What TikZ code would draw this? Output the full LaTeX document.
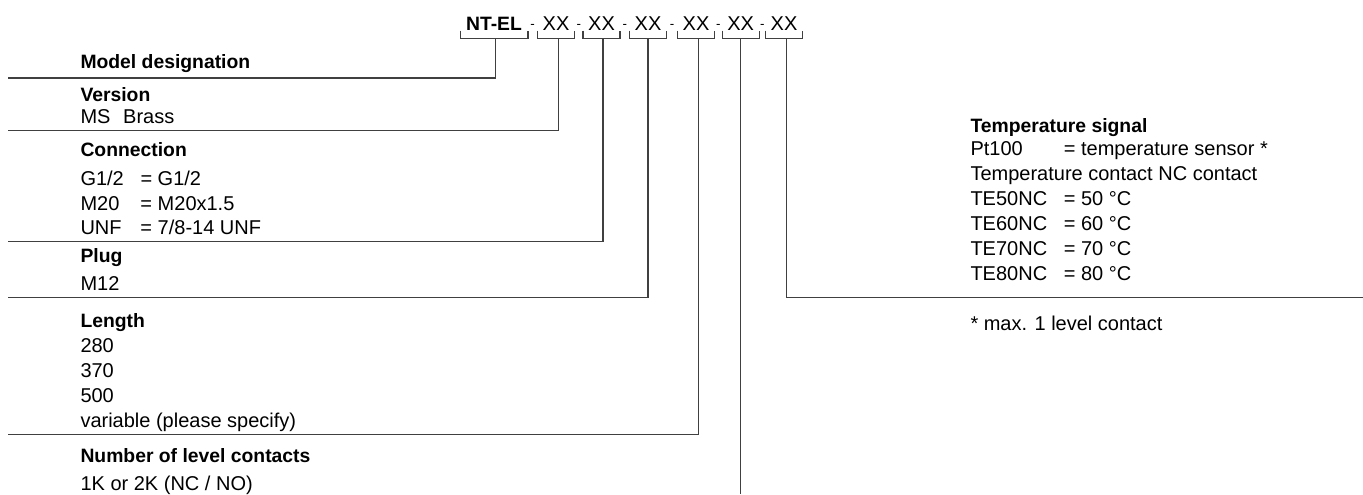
\documentclass[tikz,border=0pt]{standalone}
\usepackage{fontspec}
\setmainfont{Liberation Sans}
\usetikzlibrary{calc}

\tikzset{every picture/.style={line width=0.75pt}}
\tikzset{
  code/.style={font=\fontsize{15}{17}\selectfont, anchor=base, inner xsep=0pt, inner ysep=5.8pt, minimum width=27pt},
  codebf/.style={code, font=\fontsize{14.5}{17}\selectfont\bfseries, minimum width=50pt},
  dashtxt/.style={font=\fontsize{10}{12}\selectfont, anchor=base, inner sep=0pt},
  txt/.style={font=\fontsize{15}{18}\selectfont, anchor=base west, inner sep=0pt},
  head/.style={txt, font=\fontsize{14.5}{17}\selectfont\bfseries},
  lead/.style={draw=black!75, line width=1pt},
}

\begin{document}
\begin{tikzpicture}[x=0.75pt,y=0.75pt,yscale=-1,xscale=1]
		\path[use as bounding box] (0,0) rectangle (1363,494);
		% Code Nodes
		\node [codebf] (ntel) at (494,30) {NT-EL};
		\node [code] (xx1) at (556,30) {XX};
		\node [code] (xx2) at (601.5,30) {XX};
		\node [code] (xx3) at (648,30) {XX};
		\node [code] (xx4) at (696,30) {XX};
		\node [code] (xx5) at (740.7,30) {XX};
		\node [code] (xx6) at (784,30) {XX};
		% Dashes
		\node [dashtxt] (d1) at ($(ntel.base east)!0.5!(xx1.base west)+(0,-2)$) {-};
		\node [dashtxt] (d2) at ($(xx1.base east)!0.5!(xx2.base west)+(0,-2)$) {-};
		\node [dashtxt] (d3) at ($(xx2.base east)!0.5!(xx3.base west)+(0,-2)$) {-};
		\node [dashtxt] (d4) at ($(xx3.base east)!0.5!(xx4.base west)+(0,-2)$) {-};
		\node [dashtxt] (d5) at ($(xx4.base east)!0.5!(xx5.base west)+(0,-2)$) {-};
		\node [dashtxt] (d6) at ($(xx5.base east)!0.5!(xx6.base west)+(0,-2)$) {-};
		% Brackets
		\draw [lead] (ntel.south west) ++(0,-7.7) -- (ntel.south west) -- (ntel.south east) -- ++(0,-7.7);
		\draw [lead] (xx1.south west) ++(0,-7.7) -- (xx1.south west) -- (xx1.south east) -- ++(0,-7.7);
		\draw [lead] (xx2.south west) ++(0,-7.7) -- (xx2.south west) -- (xx2.south east) -- ++(0,-7.7);
		\draw [lead] (xx3.south west) ++(0,-7.7) -- (xx3.south west) -- (xx3.south east) -- ++(0,-7.7);
		\draw [lead] (xx4.south west) ++(0,-7.7) -- (xx4.south west) -- (xx4.south east) -- ++(0,-7.7);
		\draw [lead] (xx5.south west) ++(0,-7.7) -- (xx5.south west) -- (xx5.south east) -- ++(0,-7.7);
		\draw [lead] (xx6.south west) ++(0,-7.7) -- (xx6.south west) -- (xx6.south east) -- ++(0,-7.7);
		% Leader ends
		\coordinate (mdl-l) at (8,78);
		\coordinate (ver-l) at (8,130.7);
		\coordinate (con-l) at (8,241.7);
		\coordinate (plg-l) at (8,297.7);
		\coordinate (len-l) at (8,434.7);
		\coordinate (num-b) at (740.7,494);
		\coordinate (tmp-r) at (1363,297.7);
		% Leaders
		\draw [lead] ([xshift=1]ntel.south) |- (mdl-l);
		\draw [lead] ([xshift=2]xx1.south) |- (ver-l);
		\draw [lead] ([xshift=1]xx2.south) |- (con-l);
		\draw [lead] (xx3.south) |- (plg-l);
		\draw [lead] ([xshift=2]xx4.south) |- (len-l);
		\draw [lead] (xx5.south) -- (num-b);
		\draw [lead] ([xshift=2]xx6.south) |- (tmp-r);
		% Text Node
		\node [head] (mdl-h) at (80,68) {Model designation};
		% Text Node
		\node [head] (ver-h) at (80,101) {Version};
		\node [txt] (ver-1) at (80,123.5) {\makebox[32pt][l]{MS}Brass};
		% Text Node
		\node [head] (con-h) at (80,156) {Connection};
		\node [txt] (con-1) at (80,185) {\makebox[45pt][l]{G1/2}= G1/2};
		\node [txt] (con-2) at (80,210) {\makebox[45pt][l]{M20}= M20x1.5};
		\node [txt] (con-3) at (80,234.5) {\makebox[45pt][l]{UNF}= 7/8-14 UNF};
		% Text Node
		\node [head] (plg-h) at (80,262) {Plug};
		\node [txt] (plg-1) at (80,290) {M12};
		% Text Node
		\node [head] (len-h) at (80,327) {Length};
		\node [txt] (len-1) at (80,352) {280};
		\node [txt] (len-2) at (80,377) {370};
		\node [txt] (len-3) at (80,402) {500};
		\node [txt] (len-4) at (80,427) {variable (please specify)};
		% Text Node
		\node [head] (num-h) at (80,462) {Number of level contacts};
		\node [txt] (num-1) at (80,490) {1K or 2K (NC / NO)};
		% Text Node
		\node [head] (tmp-h) at (970,132) {Temperature signal};
		\node [txt] (tmp-1) at (970,155) {\makebox[70pt][l]{Pt100}= temperature sensor *};
		\node [txt] (tmp-2) at (970,180) {Temperature contact NC contact};
		\node [txt] (tmp-3) at (970,205) {\makebox[70pt][l]{TE50NC}= 50 °C};
		\node [txt] (tmp-4) at (970,230) {\makebox[70pt][l]{TE60NC}= 60 °C};
		\node [txt] (tmp-5) at (970,255) {\makebox[70pt][l]{TE70NC}= 70 °C};
		\node [txt] (tmp-6) at (970,280) {\makebox[70pt][l]{TE80NC}= 80 °C};
		% Text Node
		\node [txt] (note) at (970,330) {* max. 1 level contact};

	\end{tikzpicture}
\end{document}
